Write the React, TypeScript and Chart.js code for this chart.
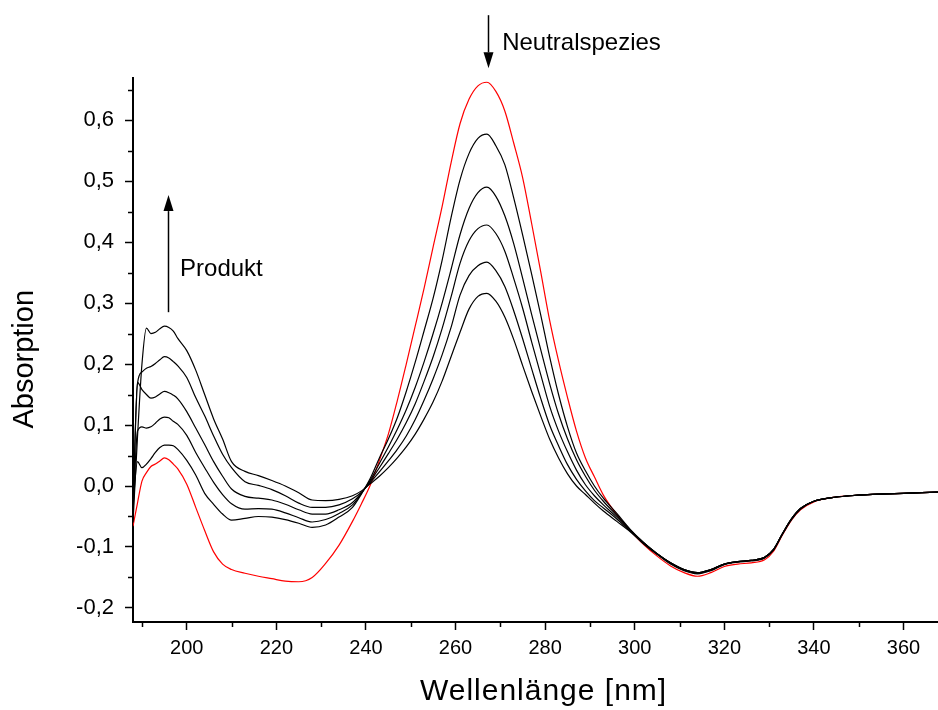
import React, { useEffect, useRef } from "react";
import { Chart, registerables } from "chart.js";

Chart.register(...registerables);

// Wavelength sampling points [nm]
const WAVELENGTH = [
  188, 189, 190, 191, 192, 193, 194, 195, 196, 197, 198,
  200, 202, 204, 206, 208, 210,
  213, 216, 219, 222, 225, 228, 231, 234, 237,
  239, 241, 243, 245, 247, 249, 251, 253, 255, 257, 259, 261, 263, 265, 267, 269,
  271, 273, 275, 277, 279, 281, 283, 285, 287, 289, 291, 293,
  296, 299, 302, 305, 308, 311, 314, 317, 320, 323, 326, 329,
  331, 333, 335, 337,
  340, 344, 348, 352, 356, 360, 364, 368,
];

// Red curve: neutral species (start spectrum)
const NEUTRAL = [
  -0.066, -0.028, 0.008, 0.022, 0.032, 0.036, 0.041, 0.046, 0.043, 0.036, 0.028,
  0.003, -0.035, -0.073, -0.108, -0.128, -0.137,
  -0.143, -0.148, -0.152, -0.156, -0.157, -0.15, -0.127, -0.097, -0.058,
  -0.029, 0.002, 0.042, 0.085, 0.14, 0.2, 0.262, 0.325, 0.392, 0.458, 0.53, 0.594, 0.634, 0.656, 0.662, 0.647,
  0.615, 0.562, 0.505, 0.43, 0.352, 0.272, 0.205, 0.145, 0.09, 0.046, 0.015, -0.015,
  -0.047, -0.073, -0.096, -0.115, -0.131, -0.142, -0.148, -0.142, -0.132, -0.128, -0.126, -0.121,
  -0.107, -0.08, -0.056, -0.039,
  -0.026, -0.019, -0.016, -0.014, -0.013, -0.012, -0.011, -0.01,
];

// Black curves: successive spectra during the reaction
const STEP_1 = [
  -0.03, 0.04, 0.03, 0.036, 0.045, 0.055, 0.063, 0.067, 0.067, 0.066, 0.06,
  0.042, 0.018, -0.012, -0.03, -0.046, -0.056,
  -0.053, -0.05, -0.051, -0.055, -0.061, -0.068, -0.064, -0.051, -0.035,
  -0.013, 0.013, 0.046, 0.077, 0.112, 0.155, 0.203, 0.255, 0.308, 0.37, 0.44, 0.502, 0.545, 0.57, 0.577, 0.558,
  0.527, 0.472, 0.411, 0.347, 0.281, 0.212, 0.15, 0.097, 0.054, 0.025, 0.0, -0.02,
  -0.045, -0.071, -0.093, -0.112, -0.128, -0.139, -0.144, -0.139, -0.129, -0.125, -0.123, -0.118,
  -0.105, -0.079, -0.055, -0.038,
  -0.025, -0.019, -0.016, -0.014, -0.013, -0.012, -0.011, -0.01,
];

const STEP_2 = [
  -0.045, 0.09, 0.097, 0.095, 0.097, 0.103, 0.11, 0.113, 0.112, 0.106, 0.101,
  0.083, 0.055, 0.03, 0.006, -0.014, -0.029,
  -0.038, -0.037, -0.038, -0.044, -0.052, -0.059, -0.055, -0.045, -0.031,
  -0.012, 0.01, 0.037, 0.064, 0.093, 0.125, 0.162, 0.204, 0.25, 0.3, 0.355, 0.412, 0.455, 0.481, 0.49, 0.475,
  0.443, 0.397, 0.34, 0.281, 0.224, 0.168, 0.118, 0.077, 0.043, 0.016, -0.007, -0.025,
  -0.048, -0.072, -0.093, -0.111, -0.127, -0.138, -0.143, -0.138, -0.128, -0.124, -0.122, -0.117,
  -0.104, -0.078, -0.054, -0.037,
  -0.025, -0.019, -0.016, -0.014, -0.013, -0.012, -0.011, -0.01,
];

const STEP_3 = [
  -0.05, 0.17, 0.158, 0.15, 0.144, 0.146, 0.151, 0.155, 0.153, 0.149, 0.143,
  0.122, 0.095, 0.068, 0.04, 0.016, -0.005,
  -0.017, -0.02, -0.023, -0.03, -0.039, -0.046, -0.046, -0.039, -0.027,
  -0.011, 0.008, 0.03, 0.053, 0.077, 0.104, 0.135, 0.172, 0.212, 0.258, 0.31, 0.365, 0.402, 0.422, 0.428, 0.414,
  0.385, 0.34, 0.291, 0.236, 0.183, 0.131, 0.09, 0.056, 0.026, 0.002, -0.016, -0.031,
  -0.051, -0.073, -0.093, -0.111, -0.126, -0.137, -0.142, -0.137, -0.128, -0.124, -0.122, -0.117,
  -0.104, -0.078, -0.054, -0.037,
  -0.025, -0.019, -0.016, -0.014, -0.013, -0.012, -0.011, -0.01,
];

const STEP_4 = [
  -0.03, 0.168, 0.187, 0.193, 0.196, 0.201, 0.207, 0.212, 0.21, 0.204, 0.197,
  0.178, 0.145, 0.115, 0.082, 0.052, 0.03,
  0.007, 0.001, -0.006, -0.016, -0.028, -0.035, -0.035, -0.031, -0.021,
  -0.01, 0.006, 0.023, 0.041, 0.06, 0.082, 0.109, 0.141, 0.176, 0.215, 0.26, 0.313, 0.345, 0.361, 0.367, 0.353,
  0.327, 0.287, 0.241, 0.192, 0.144, 0.1, 0.066, 0.035, 0.011, -0.008, -0.024, -0.036,
  -0.054, -0.074, -0.094, -0.111, -0.126, -0.137, -0.142, -0.137, -0.128, -0.124, -0.122, -0.117,
  -0.104, -0.078, -0.054, -0.037,
  -0.025, -0.019, -0.016, -0.014, -0.013, -0.012, -0.011, -0.01,
];

const STEP_5 = [
  -0.06, 0.08, 0.2, 0.259, 0.25, 0.252, 0.258, 0.262, 0.26, 0.254, 0.242,
  0.222, 0.19, 0.15, 0.11, 0.077, 0.04,
  0.024, 0.017, 0.009, 0.0, -0.011, -0.023, -0.024, -0.022, -0.016,
  -0.008, 0.004, 0.016, 0.03, 0.046, 0.064, 0.085, 0.11, 0.138, 0.172, 0.212, 0.252, 0.29, 0.311, 0.316, 0.303,
  0.277, 0.24, 0.197, 0.155, 0.115, 0.077, 0.046, 0.02, 0.0, -0.014, -0.028, -0.041,
  -0.058, -0.075, -0.095, -0.112, -0.126, -0.137, -0.142, -0.137, -0.128, -0.124, -0.122, -0.117,
  -0.104, -0.078, -0.054, -0.037,
  -0.025, -0.019, -0.016, -0.014, -0.013, -0.012, -0.011, -0.01,
];

const X_TICKS = [200, 220, 240, 260, 280, 300, 320, 340, 360];
const X_MINOR = [190, 210, 230, 250, 270, 290, 310, 330, 350];
const Y_TICKS = [-0.2, -0.1, 0.0, 0.1, 0.2, 0.3, 0.4, 0.5, 0.6];
const Y_MINOR = [-0.15, -0.05, 0.05, 0.15, 0.25, 0.35, 0.45, 0.55, 0.65];

const X_MIN = 188;
const X_MAX = 367.7;
const Y_MIN = -0.223;
const Y_MAX = 0.669;

const X_TITLE = "Wellenlänge [nm]";
const Y_TITLE = "Absorption";

// Annotations (data units)
const NEUTRAL_ARROW = { x: 267.2, from: 0.772, to: 0.685 };
const NEUTRAL_LABEL = { x: 270.4, y: 0.726, text: "Neutralspezies" };
const PRODUCT_ARROW = { x: 195.8, from: 0.285, to: 0.477 };
const PRODUCT_LABEL = { x: 198.5, y: 0.356, text: "Produkt" };

const FONT = "'Liberation Sans', Arial, sans-serif";

const toPoints = (ys: number[]) => WAVELENGTH.map((x, i) => ({ x, y: ys[i] }));
const fmt = (v: number) => v.toFixed(1).replace(".", ",");

const extrasPlugin = {
  id: "extras",
  afterDraw(chart: any) {
    const { ctx, chartArea, scales } = chart;
    const xs = scales.x;
    const ys = scales.y;
    ctx.save();
    ctx.strokeStyle = "#000";
    ctx.fillStyle = "#000";
    ctx.lineWidth = 1.5;
    // minor ticks
    X_MINOR.forEach((v) => {
      const px = Math.round(xs.getPixelForValue(v)) + 0.5;
      ctx.beginPath();
      ctx.moveTo(px, chartArea.bottom);
      ctx.lineTo(px, chartArea.bottom + 5);
      ctx.stroke();
    });
    Y_MINOR.forEach((v) => {
      const py = Math.round(ys.getPixelForValue(v)) + 0.5;
      ctx.beginPath();
      ctx.moveTo(chartArea.left, py);
      ctx.lineTo(chartArea.left - 5, py);
      ctx.stroke();
    });

    const arrow = (a: { x: number; from: number; to: number }) => {
      const px = Math.round(xs.getPixelForValue(a.x)) + 0.5;
      const y0 = ys.getPixelForValue(a.from);
      const y1 = ys.getPixelForValue(a.to);
      const dir = y1 > y0 ? 1 : -1;
      const headLen = 16;
      const headHalf = 5;
      ctx.lineWidth = 1.5;
      ctx.beginPath();
      ctx.moveTo(px, y0);
      ctx.lineTo(px, y1 - dir * headLen);
      ctx.stroke();
      ctx.beginPath();
      ctx.moveTo(px, y1);
      ctx.lineTo(px - headHalf, y1 - dir * headLen);
      ctx.lineTo(px + headHalf, y1 - dir * headLen);
      ctx.closePath();
      ctx.fill();
    };
    arrow(NEUTRAL_ARROW);
    arrow(PRODUCT_ARROW);

    ctx.font = `24px ${FONT}`;
    ctx.textBaseline = "middle";
    ctx.textAlign = "left";
    ctx.fillText(NEUTRAL_LABEL.text, xs.getPixelForValue(NEUTRAL_LABEL.x), ys.getPixelForValue(NEUTRAL_LABEL.y));
    ctx.fillText(PRODUCT_LABEL.text, xs.getPixelForValue(PRODUCT_LABEL.x), ys.getPixelForValue(PRODUCT_LABEL.y));

    // axis titles
    ctx.textAlign = "center";
    ctx.font = `30px ${FONT}`;
    try {
      (ctx as any).letterSpacing = "1px";
    } catch (e) {}
    ctx.fillText(X_TITLE, chartArea.left + (chartArea.right - chartArea.left) * 0.51, 692);
    try {
      (ctx as any).letterSpacing = "0px";
    } catch (e) {}
    ctx.font = `29px ${FONT}`;
    ctx.translate(25, chartArea.top + (chartArea.bottom - chartArea.top) * 0.517);
    ctx.rotate(-Math.PI / 2);
    ctx.fillText(Y_TITLE, 0, 0);
    ctx.restore();
  },
};

export default function App() {
  const canvasRef = useRef<HTMLCanvasElement | null>(null);

  useEffect(() => {
    const canvas = canvasRef.current;
    if (!canvas) return;
    const series = [STEP_1, STEP_2, STEP_3, STEP_4, STEP_5];
    const datasets: any[] = series.map((s, i) => ({
      label: `Spektrum ${i + 1}`,
      data: toPoints(s),
      borderColor: "#000000",
      borderWidth: 1.2,
      pointRadius: 0,
      fill: false,
      cubicInterpolationMode: "monotone",
    }));
    datasets.push({
      label: "Neutralspezies",
      data: toPoints(NEUTRAL),
      borderColor: "#ff0000",
      borderWidth: 1.2,
      pointRadius: 0,
      fill: false,
      cubicInterpolationMode: "monotone",
    });

    const chart = new Chart(canvas, {
      type: "line",
      data: { datasets },
      plugins: [extrasPlugin],
      options: {
        animation: false,
        responsive: false,
        events: [],
        layout: { padding: { top: 78, right: 0, left: 0, bottom: 0 }, autoPadding: false },
        plugins: { legend: { display: false }, tooltip: { enabled: false } },
        scales: {
          x: {
            type: "linear",
            min: X_MIN,
            max: X_MAX,
            afterBuildTicks: (scale: any) => {
              scale.ticks = X_TICKS.map((v) => ({ value: v }));
            },
            afterFit: (scale: any) => {
              scale.height = 88;
            },
            ticks: {
              color: "#000",
              font: { family: FONT, size: 20 },
              padding: 6,
              maxRotation: 0,
              autoSkip: false,
              callback: (v: any) => String(v),
            },
            grid: {
              display: true,
              drawOnChartArea: false,
              drawTicks: true,
              tickLength: 8,
              tickColor: "#000",
              tickWidth: 1.5,
            },
            border: { display: true, color: "#000", width: 2 },
          },
          y: {
            type: "linear",
            min: Y_MIN,
            max: Y_MAX,
            afterBuildTicks: (scale: any) => {
              scale.ticks = Y_TICKS.map((v) => ({ value: v }));
            },
            afterFit: (scale: any) => {
              scale.width = 133;
            },
            ticks: {
              color: "#000",
              font: { family: FONT, size: 22 },
              padding: 11,
              autoSkip: false,
              callback: (v: any) => fmt(Number(v)),
            },
            grid: {
              display: true,
              drawOnChartArea: false,
              drawTicks: true,
              tickLength: 8,
              tickColor: "#000",
              tickWidth: 1.5,
            },
            border: { display: true, color: "#000", width: 2 },
          },
        },
      },
    });
    return () => chart.destroy();
  }, []);

  return (
    <div style={{ position: "absolute", left: 0, top: 0, width: 938, height: 710, background: "#fff" }}>
      <canvas ref={canvasRef} width={938} height={710} />
    </div>
  );
}
